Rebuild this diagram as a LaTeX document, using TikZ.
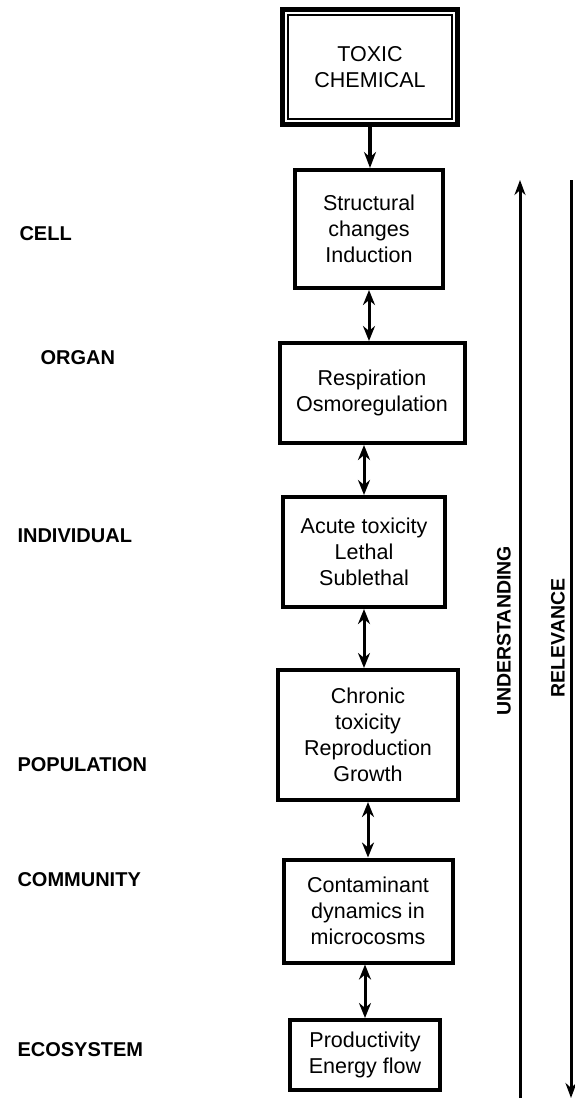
\documentclass[tikz,border=0pt]{standalone}
\usepackage{fontspec}
\setmainfont{Liberation Sans}
\usetikzlibrary{arrows.meta}
\tikzset{
  stage/.style={draw, line width=4pt, align=center, inner sep=0pt,
    font=\fontsize{21.5}{26}\selectfont},
  level/.style={anchor=west, font=\fontsize{20}{22}\selectfont\bfseries},
  link/.style={line width=3pt, {Stealth[length=15pt,width=12pt]}-{Stealth[length=15pt,width=12pt]}},
  scale label/.style={rotate=90, font=\fontsize{19.5}{22}\selectfont\bfseries}
}
\begin{document}
\begin{tikzpicture}[x=1pt, y=-1pt]
                        \useasboundingbox (0,0) rectangle (575,1100);

                        % Boxes
                        \node [stage, line width=5.5pt, minimum width=175pt, minimum height=115pt] (toxic) at (370, 67) {TOXIC\\CHEMICAL};
                        \draw [line width=2pt] ([shift={(8pt,-8pt)}]toxic.north west) rectangle ([shift={(-8pt,8pt)}]toxic.south east);
                        \node [stage, minimum width=148pt, minimum height=118pt] (cell) at (369, 229) {Structural\\changes\\Induction};
                        \node [stage, minimum width=185pt, minimum height=100pt] (organ) at (372, 393) {Respiration\\Osmoregulation};
                        \node [stage, minimum width=162pt, minimum height=110pt] (indiv) at (364, 552) {Acute toxicity\\Lethal\\Sublethal};
                        \node [stage, minimum width=180pt, minimum height=130pt] (popul) at (368, 735) {Chronic\\toxicity\\Reproduction\\Growth};
                        \node [stage, minimum width=169pt, minimum height=103pt] (commun) at (368, 911) {Contaminant\\dynamics in\\microcosms};
                        \node [stage, minimum width=150pt, minimum height=70pt] (ecosys) at (365, 1055) {Productivity\\Energy flow};

                        % Links
                        \draw [line width=3.5pt, -{Stealth[length=16pt,width=12pt]}] (toxic.south) -- (toxic.south |- cell.north);
                        \draw [link] (cell.south) -- (cell.south |- organ.north);
                        \draw [link] (indiv.north) -- (indiv.north |- organ.south);
                        \draw [link] (indiv.south) -- (indiv.south |- popul.north);
                        \draw [link] (commun.north) -- (commun.north |- popul.south);
                        \draw [link] (ecosys.north) -- (ecosys.north |- commun.south);

                        % Levels
                        \node [level] (lcell) at (16, 234) {CELL};
                        \node [level] (lorgan) at (37, 358) {ORGAN};
                        \node [level] (lindiv) at (14, 536) {INDIVIDUAL};
                        \node [level] (lpopul) at (14, 765) {POPULATION};
                        \node [level] (lcommun) at (14, 880) {COMMUNITY};
                        \node [level] (lecosys) at (14, 1050) {ECOSYSTEM};

                        % Scales
                        \coordinate (ubottom) at (520, 1098);
                        \coordinate (utop) at (520, 180);
                        \coordinate (rtop) at (571, 180);
                        \coordinate (rbottom) at (571, 1098);
                        \draw [line width=3pt, -{Stealth[length=15pt,width=11pt]}] (ubottom) -- (utop);
                        \draw [line width=3pt, -{Stealth[length=15pt,width=11pt]}] (rtop) -- (rbottom);
                        \node [scale label] (under) at (504, 631) {UNDERSTANDING};
                        \node [scale label] (relev) at (558, 638) {RELEVANCE};
                    \end{tikzpicture}
\end{document}
